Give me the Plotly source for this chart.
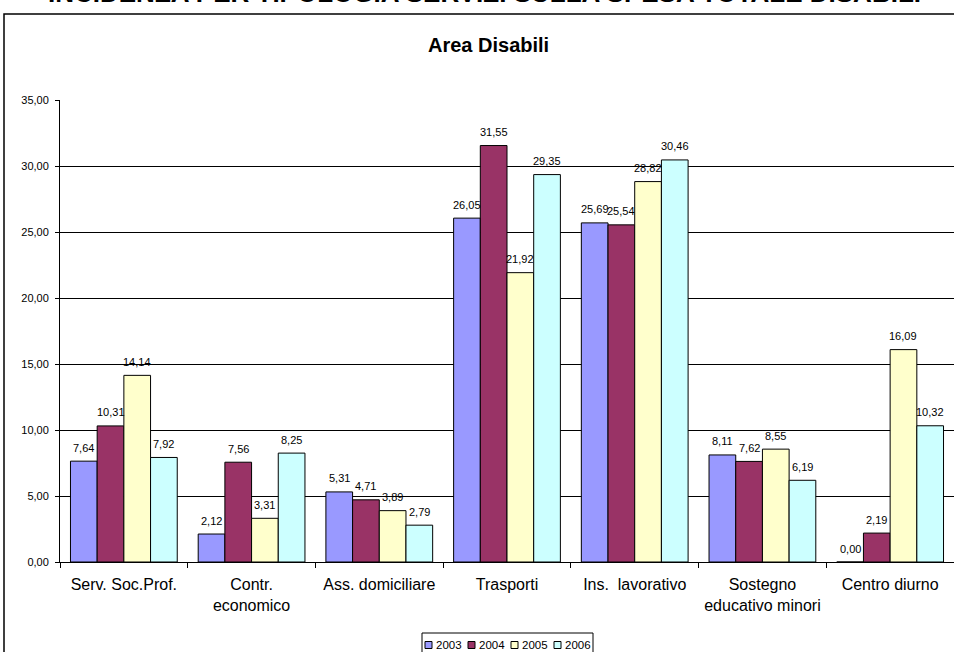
import plotly.graph_objects as go

# Service categories (x axis)
categories = [
    "Serv. Soc.Prof.",
    "Contr.<br>economico",
    "Ass. domiciliare",
    "Trasporti",
    "Ins.\u00a0 lavorativo",
    "Sostegno<br>educativo minori",
    "Centro diurno",
]

# Share of total disability spending (%) per year
years = ["2003", "2004", "2005", "2006"]
values_2003 = [7.64, 2.12, 5.31, 26.05, 25.69, 8.11, 0.00]
values_2004 = [10.31, 7.56, 4.71, 31.55, 25.54, 7.62, 2.19]
values_2005 = [14.14, 3.31, 3.89, 21.92, 28.82, 8.55, 16.09]
values_2006 = [7.92, 8.25, 2.79, 29.35, 30.46, 6.19, 10.32]
series = [values_2003, values_2004, values_2005, values_2006]
colors = ["#9999FF", "#993366", "#FFFFCC", "#CCFFFF"]

y_ticks = [0, 5, 10, 15, 20, 25, 30, 35]

FONT = "Arial, Liberation Sans, sans-serif"
W, H = 954, 652
ML, MR, MT, MB = 60, 0, 100, 90
PW, PH = W - ML - MR, H - MT - MB
BARGAP = 0.164


def px_x(px):
    return (px - ML) / PW


def px_y(py):
    return (H - MB - py) / PH


def fmt(v):
    return f"{v:.2f}".replace(".", ",")


fig = go.Figure()
for name, vals, col in zip(years, series, colors):
    fig.add_trace(go.Bar(
        x=categories,
        y=vals,
        name=name,
        marker=dict(color=col, line=dict(color="#000000", width=1)),
        showlegend=False,
    ))

shapes = []
annotations = []

# value labels above each bar
cat_px = PW / len(categories)
bar_px = cat_px * (1 - BARGAP) / len(series)
for i, vals in enumerate(series):
    dx = (i - (len(series) - 1) / 2) * bar_px
    for cat, v in zip(categories, vals):
        annotations.append(dict(text=fmt(v), xref="x", yref="y", x=cat, y=v,
                                xshift=dx, yshift=13.5, xanchor="center", yanchor="middle",
                                showarrow=False,
                                font=dict(family=FONT, size=11, color="#000000")))

# outer chart frame
shapes.append(dict(type="rect", xref="paper", yref="paper",
                   x0=px_x(4), x1=px_x(962), y0=px_y(664), y1=px_y(14),
                   line=dict(color="#000000", width=1.5), layer="below"))

# main heading (partly above the page edge)
annotations.append(dict(text="<b>INCIDENZA PER TIPOLOGIA SERVIZI SULLA SPESA TOTALE DISABILI</b>",
                        xref="paper", yref="paper", x=px_x(484.5), y=px_y(10),
                        xanchor="center", yanchor="bottom", showarrow=False,
                        font=dict(family=FONT, size=26, color="#000000")))

# chart title
annotations.append(dict(text="<b>Area Disabili</b>",
                        xref="paper", yref="paper", x=px_x(488.5), y=px_y(45),
                        xanchor="center", yanchor="middle", showarrow=False,
                        font=dict(family=FONT, size=20, color="#000000")))

# legend box and entries
shapes.append(dict(type="rect", xref="paper", yref="paper",
                   x0=px_x(422), x1=px_x(593), y0=px_y(664), y1=px_y(633),
                   line=dict(color="#000000", width=1), fillcolor="#FFFFFF"))
for i, (name, col) in enumerate(zip(years, colors)):
    sx = 425 + 43 * i
    shapes.append(dict(type="rect", xref="paper", yref="paper",
                       x0=px_x(sx), x1=px_x(sx + 7), y0=px_y(648.5), y1=px_y(641.5),
                       line=dict(color="#000000", width=1), fillcolor=col))
    annotations.append(dict(text=name, xref="paper", yref="paper",
                            x=px_x(sx + 9), y=px_y(645), xanchor="left", yanchor="middle",
                            showarrow=False,
                            font=dict(family=FONT, size=11.5, color="#000000")))

fig.update_layout(
    width=W, height=H,
    margin=dict(l=ML, r=MR, t=MT, b=MB, pad=0),
    paper_bgcolor="#FFFFFF",
    plot_bgcolor="#FFFFFF",
    barmode="group",
    bargap=BARGAP,
    bargroupgap=0,
    separators=",.",
    font=dict(family=FONT, color="#000000"),
    shapes=shapes,
    annotations=annotations,
    showlegend=False,
)

fig.update_xaxes(
    range=[-0.5, 6.5],
    showline=True, linecolor="#000000", linewidth=1,
    ticks="outside", tickson="boundaries", ticklen=5, tickcolor="#000000",
    ticklabelstandoff=8,
    showgrid=False,
    tickfont=dict(family=FONT, size=16, color="#000000"),
)

fig.update_yaxes(
    range=[0, 35],
    tickvals=y_ticks,
    tickformat=".2f",
    showline=True, linecolor="#000000", linewidth=1,
    ticks="outside", ticklen=4, tickcolor="#000000",
    ticklabelstandoff=4,
    showgrid=True, gridcolor="#000000", gridwidth=1,
    zeroline=False,
    tickfont=dict(family=FONT, size=11, color="#000000"),
)

fig.write_html("out.html")
